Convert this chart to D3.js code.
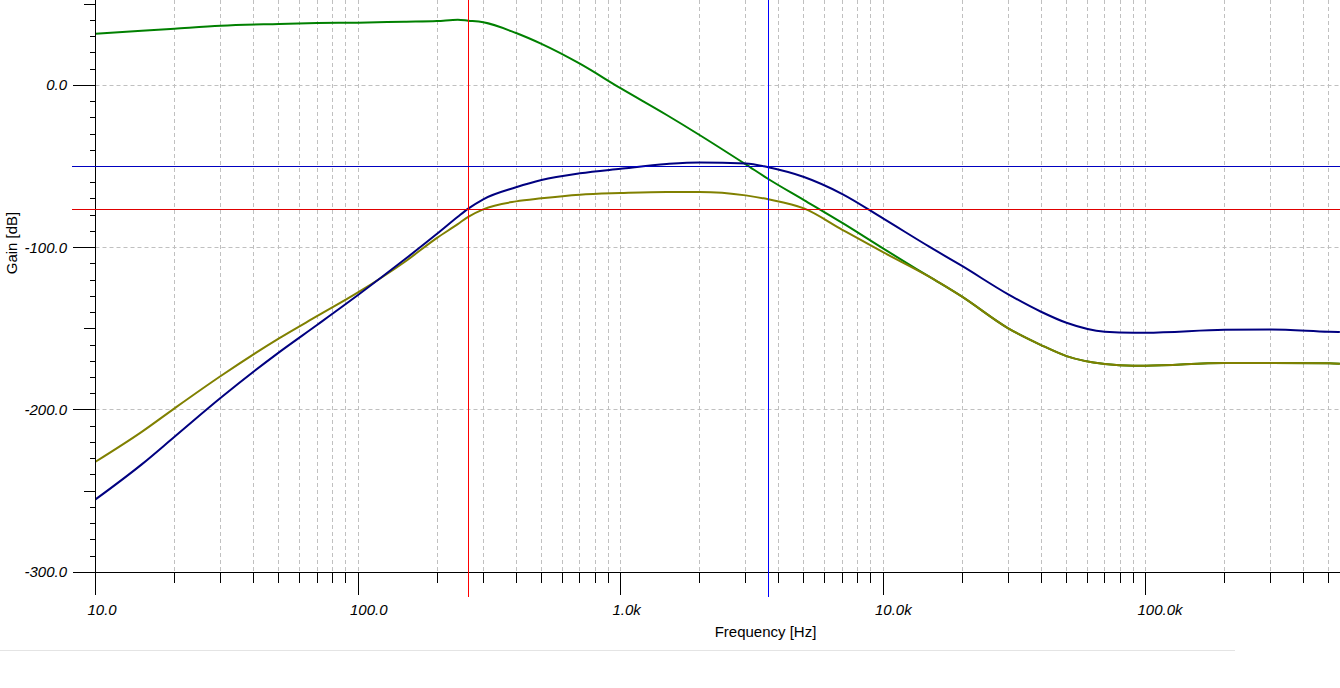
<!DOCTYPE html>
<html>
<head>
<meta charset="utf-8">
<script src="https://cdn.jsdelivr.net/npm/d3@7"></script>
<style>
  html, body { margin: 0; padding: 0; background: #fff; }
  svg { display: block; }
  text { font-family: "Liberation Sans", Arial, sans-serif; fill: #000; }
</style>
</head>
<body>
<svg id="chart" width="1340" height="688"></svg>
<script>
// ---- data ----
const freqs = [10, 15, 20, 30, 50, 70, 100, 150, 200, 240, 263, 300, 400, 500, 700, 1000, 1500, 2000, 3000, 3656, 5000, 7000, 10000, 15000, 20000, 30000, 40000, 50000, 70000, 90000, 100000, 200000, 300000, 500000, 550000];
const greenDb = [31.8, 33.6, 34.9, 36.7, 37.8, 38.4, 38.6, 39.2, 39.6, 40.4, 39.8, 38.8, 32.2, 25.5, 13.3, -1.8, -18.3, -30.6, -48.7, -57.7, -70.7, -84.8, -100.5, -117.9, -130.2, -149.7, -160, -166.8, -171.7, -172.8, -172.8, -171.0, -171.0, -171.2, -171.5];
const oliveDb = [-231.9, -213.5, -199.0, -179.1, -155.9, -142.1, -127.6, -109.0, -94.0, -85.5, -81.0, -76.4, -71.5, -69.6, -67.4, -66.4, -65.7, -65.7, -67.8, -70.2, -75.8, -89.0, -102.8, -117.9, -130.2, -149.7, -160, -166.8, -171.7, -172.8, -172.8, -171.0, -171.0, -171.2, -171.5];
const navyDb = [-255.1, -233.5, -216.5, -192.5, -164.5, -147.5, -129.2, -107.5, -91.5, -81.0, -76.0, -70.2, -62.8, -58.3, -54.2, -51.4, -48.5, -47.5, -48.1, -50.5, -56.5, -67.0, -82.0, -99.4, -111.3, -128.8, -139.5, -146.3, -151.8, -152.4, -152.4, -150.6, -150.4, -151.8, -152.0];

const xDomain = [10, 550000];
const yDomain = [-300, 52.6];
const xMajorTicks = [10, 100, 1000, 10000, 100000];
const xTickLabels = ["10.0", "100.0", "1.0k", "10.0k", "100.0k"];
const yMajorTicks = [0, -100, -200, -300];
const yTickLabels = ["0.0", "-100.0", "-200.0", "-300.0"];
const yMediumTicks = [50, -50, -150, -250];
const cursorFreqs = [263, 3656];          // red, blue vertical cursors
const cursorDbs = [-50.2, -76.4];         // blue, red horizontal cursors
const xTitle = "Frequency [Hz]";
const yTitle = "Gain [dB]";

// ---- layout ----
const svg = d3.select("#chart");
const plotLeft = 95.5, plotRight = 95.5 + 262.5 * Math.log10(xDomain[1] / xDomain[0]);
const plotTop = 0, plotBottom = 572.3;
const x = d3.scaleLog().domain(xDomain).range([plotLeft, plotRight]);
const y = d3.scaleLinear().domain(yDomain).range([plotBottom, plotBottom - (yDomain[1] - yDomain[0]) * 1.6233]);
const px = v => Math.round(v - 0.5) + 0.5;

// all x ticks (1..9 per decade)
const xAll = [];
for (let d = 10; d <= 100000; d *= 10) for (let k = 1; k <= 9; k++) { const v = d * k; if (v <= xDomain[1]) xAll.push(v); }
const xMinor = xAll.filter(v => !xMajorTicks.includes(v));
const yMinor = d3.range(-300, 51, 10).filter(v => !yMajorTicks.includes(v) && !yMediumTicks.includes(v));

// ---- grid ----
const grid = svg.append("g").attr("stroke", "#c0c0c0").attr("stroke-width", 1).attr("stroke-dasharray", "4,3").attr("fill", "none");
grid.selectAll("line.vx").data(xAll.filter(v => v > 10)).join("line")
  .attr("x1", d => px(x(d))).attr("x2", d => px(x(d)))
  .attr("y1", plotTop).attr("y2", px(plotBottom));
grid.selectAll("line.hy").data([0, -100, -200]).join("line")
  .attr("x1", px(plotLeft)).attr("x2", 1340)
  .attr("y1", d => px(y(d))).attr("y2", d => px(y(d)));

// ---- curves ----
const line = series => d3.line().x((d, i) => x(freqs[i])).y(d => y(d)).curve(d3.curveMonotoneX)(series);
const curves = svg.append("g").attr("fill", "none").attr("stroke-width", 2).attr("stroke-linejoin", "round");
curves.append("path").attr("d", line(greenDb)).attr("stroke", "#008000");
curves.append("path").attr("d", line(oliveDb)).attr("stroke", "#808000");
curves.append("path").attr("d", line(navyDb)).attr("stroke", "#000080");

// ---- axes ----
const ax = svg.append("g").attr("stroke", "#000").attr("stroke-width", 1);
ax.append("line").attr("x1", px(plotLeft)).attr("x2", px(plotLeft)).attr("y1", 0).attr("y2", 594.5);
ax.append("line").attr("x1", 73).attr("x2", 1340).attr("y1", px(plotBottom)).attr("y2", px(plotBottom));
ax.selectAll("line.ymaj").data(yMajorTicks).join("line")
  .attr("x1", 73).attr("x2", px(plotLeft)).attr("y1", d => px(y(d))).attr("y2", d => px(y(d)));
ax.selectAll("line.ymed").data(yMediumTicks).join("line")
  .attr("x1", 84).attr("x2", px(plotLeft)).attr("y1", d => px(y(d))).attr("y2", d => px(y(d)));
ax.selectAll("line.ymin").data(yMinor).join("line")
  .attr("x1", 90).attr("x2", px(plotLeft)).attr("y1", d => px(y(d))).attr("y2", d => px(y(d)));
ax.selectAll("line.xmaj").data(xMajorTicks).join("line")
  .attr("x1", d => px(x(d))).attr("x2", d => px(x(d))).attr("y1", px(plotBottom)).attr("y2", 595);
ax.selectAll("line.xmin").data(xMinor).join("line")
  .attr("x1", d => px(x(d))).attr("x2", d => px(x(d))).attr("y1", px(plotBottom)).attr("y2", 583);

// tick labels
svg.append("g").selectAll("text").data(xMajorTicks).join("text")
  .attr("x", d => x(d) - 8).attr("y", 614.5)
  .attr("font-size", 15).attr("font-style", "italic")
  .text((d, i) => xTickLabels[i]);
svg.append("g").selectAll("text").data(yMajorTicks).join("text")
  .attr("x", 67).attr("y", d => y(d) + 5)
  .attr("text-anchor", "end").attr("font-size", 15).attr("font-style", "italic")
  .text((d, i) => yTickLabels[i]);

// titles
svg.append("text").attr("x", 765.5).attr("y", 636.5).attr("text-anchor", "middle")
  .attr("font-size", 15).text(xTitle);
svg.append("text").attr("transform", "translate(17,243) rotate(-90)").attr("text-anchor", "middle")
  .attr("font-size", 15).text(yTitle);

// ---- cursors ----
const cur = svg.append("g").attr("stroke-width", 1);
const vColors = ["#ff0000", "#0000ff"];
const hColors = ["#0000c0", "#e00000"];
cur.selectAll("line.v").data(cursorFreqs).join("line")
  .attr("x1", d => px(x(d))).attr("x2", d => px(x(d))).attr("y1", 0).attr("y2", 597)
  .attr("stroke", (d, i) => vColors[i]);
cur.selectAll("line.h").data(cursorDbs).join("line")
  .attr("x1", 72).attr("x2", 1340).attr("y1", d => px(y(d))).attr("y2", d => px(y(d)))
  .attr("stroke", (d, i) => hColors[i]);

// ---- faint strip of the next panel at the bottom ----
svg.append("line").attr("x1", 0).attr("x2", 1235).attr("y1", 650.5).attr("y2", 650.5)
  .attr("stroke", "#e4e4e4").attr("stroke-width", 1);
</script>
</body>
</html>
